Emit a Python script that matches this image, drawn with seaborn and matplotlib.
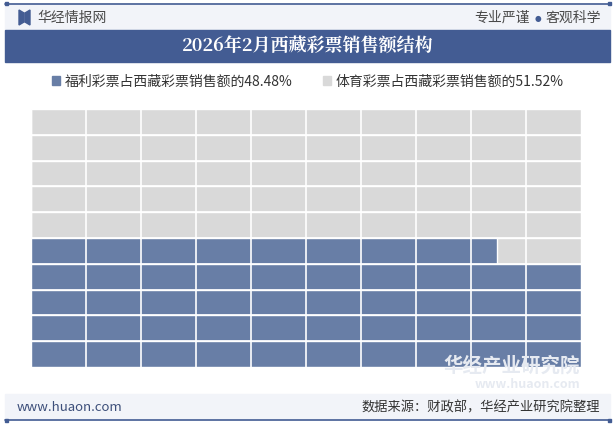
"""
Waffle chart: 2026年2月西藏彩票销售额结构
"""

import matplotlib
matplotlib.use("Agg")
import matplotlib.pyplot as plt
from matplotlib.patches import Rectangle, Polygon
import numpy as np
import pandas as pd
import seaborn as sns

# data
series_names = ["福利彩票占西藏彩票销售额的48.48%", "体育彩票占西藏彩票销售额的51.52%"]
series_values = [48.48, 51.52]
n_rows = 10
n_cols = 10

title = "2026年2月西藏彩票销售额结构"
source = "数据来源：财政部，华经产业研究院整理"

BLUE = "#687ea6"
GREY = "#d9d9d9"
DARK = "#435c93"
BAND = "#f2f4f9"

sns.set_theme(style="white")
plt.rcParams["font.family"] = ["Noto Sans CJK SC", "DejaVu Sans"]

W, H = 615, 427
fig = plt.figure(figsize=(W / 100, H / 100), dpi=100)


def fx(px):
    return px / W


def fy(py):
    return 1 - py / H


# header / footer bands
fig.patches.append(Rectangle((fx(5), fy(31)), fx(605), 26 / H, transform=fig.transFigure,
                             color=BAND, zorder=0))
fig.patches.append(Rectangle((fx(5), fy(63)), fx(605), 32 / H, transform=fig.transFigure,
                             color=DARK, zorder=1))
fig.patches.append(Rectangle((fx(5), fy(420)), fx(605), 25 / H, transform=fig.transFigure,
                             color=BAND, zorder=0))
for ly in (4.5, 421):
    fig.lines.append(plt.Line2D([fx(5), fx(610)], [fy(ly), fy(ly)], transform=fig.transFigure,
                                color=DARK, lw=1.2))
    for ex in (5, 608):
        fig.patches.append(Rectangle((fx(ex), fy(ly + 1.5)), fx(3), 3 / H,
                                     transform=fig.transFigure, color=DARK))

# logo
fig.patches.append(Polygon([[fx(19), fy(11)], [fx(24), fy(14)], [fx(24), fy(23)], [fx(19), fy(26)]],
                           closed=True, transform=fig.transFigure, color=DARK))
fig.patches.append(Polygon([[fx(25), fy(14)], [fx(30), fy(11)], [fx(30), fy(26)], [fx(25), fy(23)]],
                           closed=True, transform=fig.transFigure, color=DARK))
fig.text(fx(37), fy(18), "华经情报网", fontsize=10, color="#4a4a4a", va="center", ha="left")
fig.text(fx(601), fy(18), "客观科学", fontsize=10, color="#4a4a4a", va="center", ha="right")
fig.text(fx(538), fy(18), "●", fontsize=5.5, color=DARK, va="center", ha="center",
         family="DejaVu Sans")
fig.text(fx(530), fy(18), "专业严谨", fontsize=10, color="#4a4a4a", va="center", ha="right")
fig.text(0.5, fy(47), title, fontsize=13, color="white", fontweight="bold",
         va="center", ha="center", family=["Noto Serif CJK SC", "Noto Sans CJK SC", "DejaVu Sans"])
fig.text(fx(17), fy(408), "www.huaon.com", fontsize=9.5, color="#3d4f7a", va="center", ha="left")
fig.text(fx(600), fy(408), source, fontsize=9.5, color="#333333", va="center", ha="right")

# watermark
fig.text(fx(580), fy(366), "华经产业研究院", fontsize=14, color="#e6eaf1", va="center",
         ha="right", fontweight="bold", zorder=10)
fig.text(fx(580), fy(385), "www.huaon.com", fontsize=9, color="#e6eaf1", va="center",
         ha="right", fontweight="bold")

# waffle axes
ax = fig.add_axes([fx(31), fy(368), fx(550), 258 / H])
rows = [str(r) for r in range(n_rows)]
per_row = series_values[0] / 100 * n_rows * n_cols
filled = [float(np.clip(per_row - n_cols * r, 0, n_cols)) for r in range(n_rows)]
df = pd.DataFrame({"row": rows, "blue": filled, "total": [n_cols] * n_rows})
order = rows[::-1]

sns.barplot(data=df, y="row", x="total", order=order, orient="h", color=GREY,
            width=1.0, saturation=1, ax=ax, zorder=1)
sns.barplot(data=df, y="row", x="blue", order=order, orient="h", color=BLUE,
            width=1.0, saturation=1, ax=ax, zorder=2)

for c in range(1, n_cols):
    ax.axvline(c, color="white", lw=1.2, zorder=5)
for r in range(n_rows - 1):
    ax.axhline(r + 0.5, color="white", lw=1.2, zorder=5)

ax.set_xlim(0, n_cols)
ax.set_ylim(n_rows - 0.5, -0.5)
ax.set_xlabel("")
ax.set_ylabel("")
ax.set_xticks([])
ax.set_yticks([])
for s in ax.spines.values():
    s.set_visible(False)

# legend
handles = [Rectangle((0, 0), 1, 1, color=BLUE), Rectangle((0, 0), 1, 1, color=GREY)]
fig.legend(handles, series_names, loc="center", bbox_to_anchor=(0.5, fy(82)), ncol=2,
           frameon=False, fontsize=10, handlelength=0.6, handleheight=0.6,
           handletextpad=0.3, columnspacing=2.2, labelcolor="#333333")

fig.savefig("out.png", dpi=100)
